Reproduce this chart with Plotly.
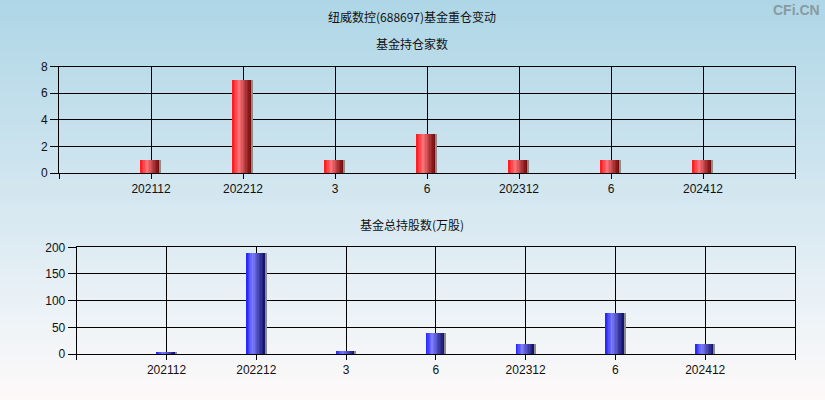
import plotly.graph_objects as go

# ---- data ----
categories = ["202112", "202212", "3", "6", "202312", "6", "202412"]
fund_count = [1, 7, 1, 3, 1, 1, 1]
fund_shares = [2.4, 189, 5.6, 39.4, 18.7, 76.8, 18.7]
title_main = "纽威数控(688697)基金重仓变动"
title_top = "基金持仓家数"
title_bottom = "基金总持股数(万股)"

positions = list(range(len(categories)))
tick_positions = [-1] + positions + [len(categories)]
tick_texts = [""] + categories + [""]

W, H = 825, 400
BAR_W = 0.22
N_SLICES = 14

def lerp(c1, c2, t):
    return tuple(int(round(a + (b - a) * t)) for a, b in zip(c1, c2))

def grad_color(stops, t):
    for (t0, c0), (t1, c1) in zip(stops, stops[1:]):
        if t0 <= t <= t1:
            return "rgb(%d,%d,%d)" % lerp(c0, c1, (t - t0) / (t1 - t0) if t1 > t0 else 0)
    return "rgb(%d,%d,%d)" % stops[-1][1]

red_stops = [(0.0, (250, 20, 25)), (0.32, (255, 115, 120)), (0.9, (115, 10, 10)), (0.91, (140, 140, 140)), (1.0, (140, 140, 140))]
blue_stops = [(0.0, (30, 30, 250)), (0.32, (125, 125, 255)), (0.9, (20, 20, 110)), (0.91, (140, 140, 140)), (1.0, (140, 140, 140))]

fig = go.Figure()

def add_grad_bars(values, stops, xa, ya):
    sw = BAR_W / N_SLICES
    for i in range(N_SLICES):
        t = (i + 0.5) / N_SLICES
        fig.add_trace(go.Bar(
            x=positions, y=values, xaxis=xa, yaxis=ya,
            width=sw * 1.05, offset=-BAR_W / 2 + i * sw,
            marker=dict(color=grad_color(stops, t), line=dict(width=0)),
            showlegend=False, hoverinfo="skip",
        ))

add_grad_bars(fund_count, red_stops, "x", "y")
add_grad_bars(fund_shares, blue_stops, "x2", "y2")

tick_font = dict(family="Liberation Sans, Arial, sans-serif", size=12, color="#111")
axis_common = dict(showline=True, linecolor="black", linewidth=1, mirror=True,
                   showgrid=True, gridcolor="black", gridwidth=1, zeroline=False,
                   ticks="outside", tickcolor="black", tickfont=tick_font, fixedrange=True,
                   automargin=False)

top_y = (66.5, 173.0)
bot_y = (247.3, 354.0)

fig.update_layout(
    width=W, height=H,
    margin=dict(l=0, r=0, t=0, b=0, pad=0),
    paper_bgcolor="rgb(250,250,250)",
    plot_bgcolor="rgba(0,0,0,0)",
    barmode="overlay", bargap=0,
    xaxis=dict(domain=[59 / W, 795 / W], range=[-1, len(categories)], tickvals=tick_positions,
               ticktext=tick_texts, ticklen=5, anchor="y", **axis_common),
    yaxis=dict(domain=[1 - top_y[1] / H, 1 - top_y[0] / H], range=[0, 8], dtick=2, ticklen=8,
               anchor="x", **axis_common),
    xaxis2=dict(domain=[76.7 / W, 795 / W], range=[-1, len(categories)], tickvals=tick_positions,
                ticktext=tick_texts, ticklen=5, anchor="y2", **axis_common),
    yaxis2=dict(domain=[1 - bot_y[1] / H, 1 - bot_y[0] / H], range=[0, 200], dtick=50, ticklen=8,
                anchor="x2", **axis_common),
)

# background vertical gradient
bg_stops = [(0.0, (174, 214, 230)), (0.5, (212, 231, 240)), (0.8, (238, 243, 247)), (1.0, (253, 249, 249))]
n_bands = 80
shapes = []
for i in range(n_bands):
    t = (i + 0.5) / n_bands
    shapes.append(dict(type="rect", xref="paper", yref="paper", x0=0, x1=1,
                       y0=1 - (i + 1) / n_bands - 0.001, y1=1 - i / n_bands,
                       fillcolor=grad_color(bg_stops, t), line=dict(width=0), layer="below"))
fig.update_layout(shapes=shapes)

cjk = "Noto Sans CJK SC, sans-serif"
def ann(text, x, y, size=12, color="#111", xanchor="center", family=cjk):
    fig.add_annotation(text=text, x=x / W, y=1 - y / H, xref="paper", yref="paper",
                       showarrow=False, xanchor=xanchor, yanchor="middle",
                       font=dict(family=family, size=size, color=color))

ann(title_main, 412, 17)
ann(title_top, 412, 43)
ann(title_bottom, 412, 224)
ann("<b>CFi.CN</b>", 822, 10, size=14, color="#8a9aa0", xanchor="right", family="Liberation Sans, Arial, sans-serif")

fig.write_html("out.html", config={"displayModeBar": False},
               post_script="document.body.style.margin='0';document.body.style.overflow='hidden';")
